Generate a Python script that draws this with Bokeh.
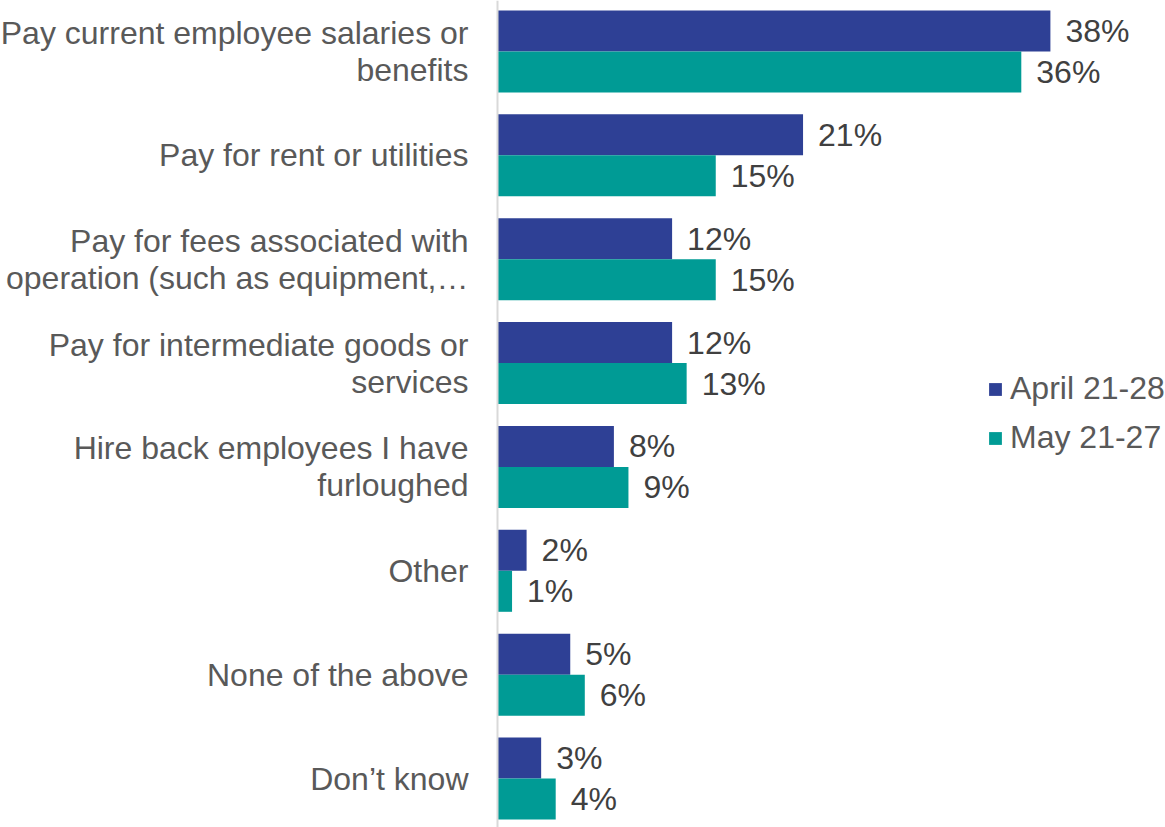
from bokeh.plotting import figure
from bokeh.models import ColumnDataSource, Range1d, Span, Legend, LegendItem
from bokeh.transform import dodge
from bokeh.core.properties import value
from bokeh.embed import file_html
from bokeh.resources import INLINE

categories = [
    "Pay current employee salaries or\nbenefits",
    "Pay for rent or utilities",
    "Pay for fees associated with\noperation (such as equipment,\u2026",
    "Pay for intermediate goods or\nservices",
    "Hire back employees I have\nfurloughed",
    "Other",
    "None of the above",
    "Don\u2019t know",
]
april = [38, 21, 12, 12, 8, 2, 5, 3]
may = [36, 15, 15, 13, 9, 1, 6, 4]
series_names = ["April 21-28", "May 21-27"]
colors = ["#2E4095", "#009B95"]

FONT = value("Liberation Sans")

src = ColumnDataSource(dict(
    y=list(range(len(categories))),
    zero=[0] * len(categories),
    cat=categories,
    april=april,
    may=may,
    april_lbl=[f"{v}%" for v in april],
    may_lbl=[f"{v}%" for v in may],
))

px_per_unit = 14.55
axis_px = 497
W, H = 1165, 827
pitch = 103.86
first_center = 51

p = figure(
    width=W, height=H, output_backend="svg", toolbar_location=None,
    x_range=Range1d(-axis_px / px_per_unit, (W - axis_px) / px_per_unit),
    y_range=Range1d((H - first_center) / pitch, -first_center / pitch),
    x_axis_location=None, y_axis_location=None, min_border=0,
)
p.grid.visible = False
p.outline_line_color = None
p.background_fill_color = "white"
p.border_fill_color = "white"

bh = 41 / pitch
off = bh / 2

r1 = p.hbar(y=dodge("y", -off, range=p.y_range), right="april", left=0, height=bh,
            source=src, fill_color=colors[0], line_color=None)
r2 = p.hbar(y=dodge("y", off, range=p.y_range), right="may", left=0, height=bh,
            source=src, fill_color=colors[1], line_color=None)

p.add_layout(Span(location=0, dimension="height", line_color="#D9D9D9", line_width=2))

p.text(x="april", y=dodge("y", -off, range=p.y_range), text="april_lbl", source=src,
       x_offset=15, text_baseline="middle", text_align="left",
       text_font_size="32px", text_color="#404040", text_font=FONT)
p.text(x="may", y=dodge("y", off, range=p.y_range), text="may_lbl", source=src,
       x_offset=15, text_baseline="middle", text_align="left",
       text_font_size="32px", text_color="#404040", text_font=FONT)

p.text(x="zero", y="y", text="cat", source=src, x_offset=-29,
       text_baseline="middle", text_align="right", text_line_height=1.03,
       text_font_size="32px", text_color="#595959", text_font=FONT)

legend = Legend(
    items=[LegendItem(label=series_names[0], renderers=[r1]),
           LegendItem(label=series_names[1], renderers=[r2])],
    location=(987, 371), glyph_width=16, glyph_height=16,
    label_text_font_size="32px", label_text_color="#595959",
    label_text_font="Liberation Sans", label_standoff=7, spacing=12,
    padding=0, margin=0, border_line_color=None, background_fill_alpha=0,
)
p.add_layout(legend)

open("out.html", "w").write(file_html(p, INLINE))
